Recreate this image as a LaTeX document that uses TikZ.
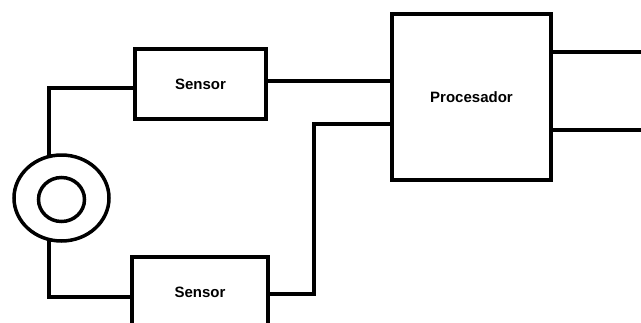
\documentclass[tikz,border=0pt]{standalone}
\usepackage{fontspec}
\setmainfont{Liberation Sans}
\usepackage{tikz}
\usetikzlibrary{shapes.geometric,calc}

\begin{document}
\begin{tikzpicture}[
  x=1pt,y=-1pt,
  font=\fontsize{15}{18}\selectfont\bfseries,
  blk/.style={draw,line width=4pt,rectangle,inner sep=0pt},
  ring/.style={draw,line width=3.5pt,ellipse,inner sep=0pt,outer sep=0pt},
  wire/.style={line width=4pt}
]
\useasboundingbox (0,0) rectangle (641,322);

% bloques
\node[blk,minimum width=131pt,minimum height=70pt] (sensorA) at (200.5,84) {Sensor};
\node[blk,minimum width=136pt,minimum height=70pt] (sensorB) at (200,292) {Sensor};
\node[blk,minimum width=159pt,minimum height=166pt] (proc) at (471.5,97) {Procesador};
\node[ring,minimum width=95pt,minimum height=86pt] (disco) at (61.5,198) {};
\node[ring,minimum width=46pt,minimum height=44pt] (discoin) at (61.5,199.5) {};

% puntos de los cables
\coordinate (jA) at (49,88);
\coordinate (jB) at (49,297);
\coordinate (inA) at (390,81);
\coordinate (jC) at (314,294);
\coordinate (jD) at (314,124);
\coordinate (outA) at (641,52);
\coordinate (outB) at (641,130);

\draw[wire] (disco.107) -- (disco.107 |- jA) -- (jA -| sensorA.west);
\draw[wire] (disco.253) -- (disco.253 |- jB) -- (jB -| sensorB.west);
\draw[wire] (inA -| sensorA.east) -- (inA -| proc.west);
\draw[wire] (jC -| sensorB.east) -- (jC) -- (jD) -- (jD -| proc.west);
\draw[wire] (outA -| proc.east) -- (outA);
\draw[wire] (outB -| proc.east) -- (outB);
\end{tikzpicture}
\end{document}
